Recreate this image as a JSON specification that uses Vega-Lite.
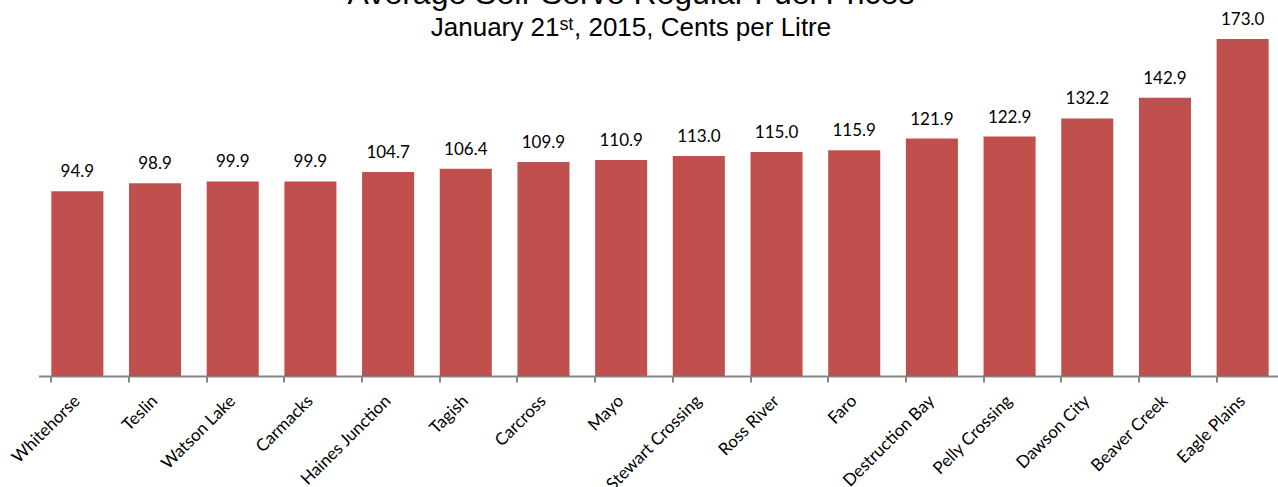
{
  "$schema": "https://vega.github.io/schema/vega-lite/v6.json",
  "autosize": "none",
  "width": 1243,
  "height": 337,
  "padding": {"left": 38.5, "top": 39, "right": 0, "bottom": 111},
  "background": "white",
  "title": {
    "text": "Average Self-Serve Regular Fuel Prices",
    "subtitle": "January 21ˢᵗ, 2015, Cents per Litre",
    "anchor": "middle",
    "frame": "group",
    "dx": -29,
    "offset": -31,
    "font": "Liberation Sans",
    "fontSize": 32,
    "fontWeight": "normal",
    "color": "black",
    "subtitleFont": "Liberation Sans",
    "subtitleFontSize": 26,
    "subtitleColor": "black",
    "subtitlePadding": 4
  },
  "data": {
    "values": [
      {"town": "Whitehorse", "price": 94.9},
      {"town": "Teslin", "price": 98.9},
      {"town": "Watson Lake", "price": 99.9},
      {"town": "Carmacks", "price": 99.9},
      {"town": "Haines Junction", "price": 104.7},
      {"town": "Tagish", "price": 106.4},
      {"town": "Carcross", "price": 109.9},
      {"town": "Mayo", "price": 110.9},
      {"town": "Stewart Crossing", "price": 113.0},
      {"town": "Ross River", "price": 115.0},
      {"town": "Faro", "price": 115.9},
      {"town": "Destruction Bay", "price": 121.9},
      {"town": "Pelly Crossing", "price": 122.9},
      {"town": "Dawson City", "price": 132.2},
      {"town": "Beaver Creek", "price": 142.9},
      {"town": "Eagle Plains", "price": 173.0}
    ]
  },
  "encoding": {
    "x": {
      "field": "town",
      "type": "nominal",
      "sort": null,
      "scale": {"paddingInner": 0.33, "paddingOuter": 0.165},
      "axis": {
        "title": null,
        "labelAngle": -45,
        "labelAlign": "right",
        "labelBaseline": "middle",
        "labelFont": "Lato",
        "labelFontSize": 17,
        "labelColor": "black",
        "labelPadding": 16,
        "bandPosition": 0,
        "domainColor": "#868686",
        "domainWidth": 2,
        "tickColor": "#868686",
        "tickWidth": 2,
        "tickSize": 6,
        "labelOverlap": false
      }
    },
    "y": {
      "field": "price",
      "type": "quantitative",
      "scale": {"domain": [0, 173], "nice": false},
      "axis": null
    }
  },
  "layer": [
    {"mark": {"type": "bar", "color": "#C0504D"}},
    {
      "mark": {"type": "text", "baseline": "alphabetic", "dy": -14, "font": "Lato", "fontSize": 17, "color": "black"},
      "encoding": {"text": {"field": "price", "type": "quantitative", "format": ".1f"}}
    }
  ],
  "config": {"view": {"stroke": null}}
}
